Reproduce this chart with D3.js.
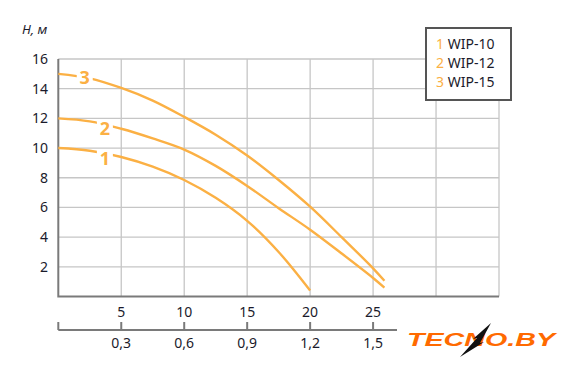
<!DOCTYPE html>
<html>
<head>
<meta charset="utf-8">
<script src="https://cdn.jsdelivr.net/npm/d3@7"></script>
<style>
  body { margin: 0; background: #fff; }
  svg { display: block; font-family: "Noto Sans", sans-serif; }
  .grid line { stroke: #c6c6c6; stroke-width: 1.3; }
  .tick-label { fill: #1b1b2b; font-size: 14px; }
</style>
</head>
<body>
<svg id="chart" width="581" height="376"></svg>
<script>
// data
var names = ["WIP-10", "WIP-12", "WIP-15"];
var curveNums = ["1", "2", "3"];
var flow1 = [0, 2.5, 5, 7.5, 10, 12.5, 15, 17.5, 20];
var head1 = [10, 9.82, 9.4, 8.75, 7.85, 6.65, 5.1, 3.0, 0.4];
var flow2 = [0, 2.5, 5, 7.5, 10, 12.5, 15, 17.5, 20, 22.5, 25, 25.9];
var head2 = [12, 11.8, 11.3, 10.65, 9.9, 8.8, 7.45, 5.95, 4.5, 2.9, 1.25, 0.6];
var flow3 = [0, 2.5, 5, 7.5, 10, 12.5, 15, 17.5, 20, 22.5, 25, 25.9];
var head3 = [15, 14.7, 14.05, 13.2, 12.1, 10.9, 9.5, 7.85, 6.05, 4.0, 1.9, 1.06];
var labelFlow = [3.7, 3.7, 2.1];
var labelShift = [5, 4, 0];
var yTicks = [2, 4, 6, 8, 10, 12, 14, 16];
var xTicks = [5, 10, 15, 20, 25];
var x2Ticks = [0.3, 0.6, 0.9, 1.2, 1.5];

var orange = "#fbb044";
var svg = d3.select("#chart");

var x = d3.scaleLinear().domain([0, 35]).range([58.3, 499]);
var y = d3.scaleLinear().domain([0, 16]).range([296.5, 59]);
// second flow axis (m3/h), 5 -> 0.3
var x2 = d3.scaleLinear().domain([0, 2.1]).range([58.3, 499]);

// grid
var grid = svg.append("g").attr("class", "grid");
grid.selectAll(".gx").data(d3.range(5, 36, 5)).enter().append("line")
  .attr("x1", function(d){ return x(d); }).attr("x2", function(d){ return x(d); })
  .attr("y1", y(16)).attr("y2", y(0));
grid.selectAll(".gy").data(yTicks).enter().append("line")
  .attr("x1", x(0)).attr("x2", x(35))
  .attr("y1", function(d){ return y(d); }).attr("y2", function(d){ return y(d); });

// main axes
svg.append("path")
  .attr("d", "M" + x(0) + "," + y(16) + "V" + y(0) + "H" + x(35))
  .attr("fill", "none").attr("stroke", "#7a7a7a").attr("stroke-width", 2);

svg.selectAll(".ylab").data(yTicks).enter().append("text")
  .attr("class", "tick-label")
  .attr("x", 48).attr("y", function(d){ return y(d) + 5; })
  .attr("text-anchor", "end")
  .text(function(d){ return d; });

svg.append("text").attr("x", 22).attr("y", 34)
  .attr("font-style", "italic").attr("font-size", 13).attr("fill", "#1b1b2b")
  .text("H, м");

svg.selectAll(".xlab").data(xTicks).enter().append("text")
  .attr("class", "tick-label")
  .attr("x", function(d){ return x(d); }).attr("y", 317)
  .attr("text-anchor", "middle")
  .text(function(d){ return d; });

// second axis
var ax2 = svg.append("g").attr("transform", "translate(0,330)");
ax2.append("line").attr("x1", x(0)).attr("x2", 397)
  .attr("stroke", "#7a7a7a").attr("stroke-width", 2);
ax2.selectAll(".t").data([0].concat(x2Ticks)).enter().append("line")
  .attr("x1", function(d){ return x2(d); }).attr("x2", function(d){ return x2(d); })
  .attr("y1", -8).attr("y2", 0)
  .attr("stroke", "#7a7a7a").attr("stroke-width", 2);
ax2.selectAll(".l").data(x2Ticks).enter().append("text")
  .attr("class", "tick-label")
  .attr("x", function(d){ return x2(d); }).attr("y", 18)
  .attr("text-anchor", "middle")
  .text(function(d){ return d3.format(".1f")(d).replace(".", ","); });

// curves
var series = [[flow1, head1], [flow2, head2], [flow3, head3]];
var line = d3.line()
  .x(function(d){ return x(d[0]); })
  .y(function(d){ return y(d[1]); })
  .curve(d3.curveCatmullRom.alpha(0.5));

series.forEach(function(s, i){
  var pts = s[0].map(function(q, j){ return [q, s[1][j]]; });
  svg.append("path").datum(pts)
    .attr("d", line)
    .attr("fill", "none").attr("stroke", orange).attr("stroke-width", 2.4);

  var hq = d3.scaleLinear().domain(s[0]).range(s[1]);
  var lx = x(labelFlow[i]), ly = y(hq(labelFlow[i])) + labelShift[i];
  svg.append("rect")
    .attr("x", lx - 8).attr("y", ly - 9).attr("width", 16).attr("height", 18)
    .attr("fill", "#fff");
  svg.append("text")
    .attr("x", lx).attr("y", ly + 6.5)
    .attr("text-anchor", "middle")
    .attr("font-size", 18).attr("font-weight", "bold").attr("fill", orange)
    .text(curveNums[i]);
});

// legend
var leg = svg.append("g").attr("transform", "translate(426,28)");
leg.append("rect").attr("width", 85).attr("height", 72)
  .attr("fill", "#fff").attr("stroke", "#555").attr("stroke-width", 2);
names.forEach(function(n, i){
  var t = leg.append("text").attr("x", 10).attr("y", 21 + i * 19)
    .attr("font-size", 14);
  t.append("tspan").attr("fill", orange).text(curveNums[i] + " ");
  t.append("tspan").attr("fill", "#1b1b2b").text(n);
});

// logo
var logo = svg.append("g").attr("transform", "translate(407,346)");
logo.append("text")
  .attr("font-family", "Liberation Sans, sans-serif")
  .attr("font-size", 19).attr("font-weight", "900").attr("font-style", "italic")
  .attr("fill", "#ff6a00")
  .attr("textLength", 148).attr("lengthAdjust", "spacingAndGlyphs")
  .text("TECNO.BY");
logo.append("path")
  .attr("d", "M84,-23 L73,-3 L77,-4 L53,11 L70,-8 L66,-7 Z")
  .attr("fill", "#111");
</script>
</body>
</html>
